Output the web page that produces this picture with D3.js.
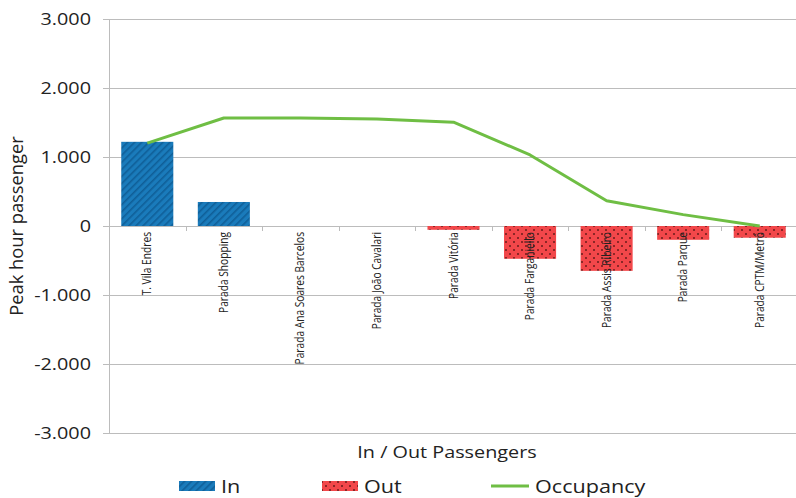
<!DOCTYPE html>
<html><head><meta charset="utf-8">
<script src="https://cdn.jsdelivr.net/npm/d3@7"></script>
<style>body{margin:0;background:#fff}svg{display:block}text{font-family:"Open Sans",sans-serif}</style>
</head><body><svg id="c" width="796" height="498"></svg>
<script>
const categories = ["T. Vila Endres","Parada Shopping","Parada Ana Soares Barcelos","Parada João Cavalari","Parada Vitória","Parada Farganiello","Parada Assis Ribeiro","Parada Parque","Parada CPTM/Metrô"];
const inValues = [1220, 348, 0, 0, 0, 0, 0, 0, 0];
const outValues = [0, 0, 0, 0, -55, -475, -650, -200, -170];
const occupancy = [1200, 1565, 1565, 1550, 1505, 1030, 365, 165, 0];
const yTicks = [3000, 2000, 1000, 0, -1000, -2000, -3000];
const yTickLabels = ["3.000","2.000","1.000","0","-1.000","-2.000","-3.000"];

(function(){
const svg = d3.select("#c");
const SX = 1.2; // horizontal text stretch seen in the reference
const mLeft = 109, mRight = 798, mTop = 19, mBottom = 433;
const x = d3.scaleBand().domain(categories).range([mLeft, mRight]).paddingInner(0.32).paddingOuter(0.16);
const xb = d3.scaleBand().domain(categories).range([mLeft, mRight]);
const y = d3.scaleLinear().domain([-3000, 3000]).range([mBottom, mTop]);

const defs = svg.append("defs");
function stripe(id){
  const p = defs.append("pattern").attr("id",id).attr("patternUnits","userSpaceOnUse").attr("width",5).attr("height",5).attr("patternTransform","rotate(45)");
  p.append("rect").attr("width",5).attr("height",5).attr("fill","#1a7bbb");
  p.append("rect").attr("width",1.6).attr("height",5).attr("fill","#0f5f98");
}
stripe("pin"); stripe("pin2");
const pout = defs.append("pattern").attr("id","pout").attr("patternUnits","userSpaceOnUse").attr("width",8).attr("height",8);
pout.append("rect").attr("width",8).attr("height",8).attr("fill","#f2474a");
pout.append("circle").attr("cx",2).attr("cy",2).attr("r",1).attr("fill","#6a1a1a");
pout.append("circle").attr("cx",6).attr("cy",6).attr("r",1).attr("fill","#6a1a1a");

svg.append("g").selectAll("line").data(yTicks).join("line")
  .attr("x1", mLeft - 6).attr("x2", 796).attr("y1", d => Math.round(y(d))+0.5).attr("y2", d => Math.round(y(d))+0.5)
  .attr("stroke", "#bcbcbc").attr("stroke-width", 1);
svg.append("line").attr("x1", mLeft+0.5).attr("x2", mLeft+0.5).attr("y1", mTop).attr("y2", mBottom)
  .attr("stroke", "#bcbcbc");

svg.append("g").selectAll("text").data(yTicks).join("text")
  .attr("transform", d => `translate(91,${y(d)}) scale(${SX},1)`)
  .attr("dy", "0.36em").attr("text-anchor","end")
  .attr("font-size", 16.5).attr("fill", "#222").text((d,i) => yTickLabels[i]);

svg.append("g").selectAll("rect").data(categories.filter((c,i)=>inValues[i]!==0)).join("rect")
  .attr("x", d => x(d)).attr("width", x.bandwidth())
  .attr("y", d => y(inValues[categories.indexOf(d)])).attr("height", d => y(0) - y(inValues[categories.indexOf(d)]))
  .attr("fill", "url(#pin)");
svg.append("g").selectAll("rect").data(categories.filter((c,i)=>outValues[i]!==0)).join("rect")
  .attr("x", d => x(d)).attr("width", x.bandwidth())
  .attr("y", y(0)).attr("height", d => y(outValues[categories.indexOf(d)]) - y(0))
  .attr("fill", "url(#pout)");

svg.append("g").selectAll("line").data(categories.slice(1)).join("line")
  .attr("x1", d => Math.round(xb(d))+0.5).attr("x2", d => Math.round(xb(d))+0.5)
  .attr("y1", y(0)).attr("y2", y(0) + 5).attr("stroke", "#bcbcbc");

svg.append("g").selectAll("text").data(categories).join("text")
  .attr("transform", d => `translate(${xb(d) + xb.bandwidth()/2 + 4},${y(0) + 6}) scale(${SX},1) rotate(-90)`)
  .attr("text-anchor", "end").attr("font-size", 10.2).attr("fill", "#222").text(d => d);

const line = d3.line().x((d,i) => x(categories[i]) + x.bandwidth()/2).y(d => y(d));
svg.append("path").datum(occupancy).attr("d", line).attr("fill","none")
  .attr("stroke", "#6fbe44").attr("stroke-width", 3).attr("stroke-linejoin","round");

svg.append("text").attr("transform", `translate(23,${y(0)}) rotate(-90)`).attr("text-anchor","middle")
  .attr("font-size", 18.3).attr("fill","#222").text("Peak hour passenger");
svg.append("text").attr("transform", `translate(447,458) scale(${SX},1)`).attr("text-anchor","middle")
  .attr("font-size", 16.5).attr("fill","#222").text("In / Out Passengers");

const lg = svg.append("g");
lg.append("rect").attr("x",179).attr("y",481).attr("width",36).attr("height",10).attr("fill","url(#pin2)");
lg.append("text").attr("transform","translate(221,493) scale(1.2,1)").attr("font-size",18).attr("fill","#222").text("In");
lg.append("rect").attr("x",322).attr("y",481).attr("width",36).attr("height",10).attr("fill","url(#pout)");
lg.append("text").attr("transform","translate(364,493) scale(1.2,1)").attr("font-size",18).attr("fill","#222").text("Out");
lg.append("line").attr("x1",491).attr("x2",529).attr("y1",486).attr("y2",486).attr("stroke","#6fbe44").attr("stroke-width",3);
lg.append("text").attr("transform","translate(535,493) scale(1.2,1)").attr("font-size",18).attr("fill","#222").text("Occupancy");
})();
</script></body></html>
